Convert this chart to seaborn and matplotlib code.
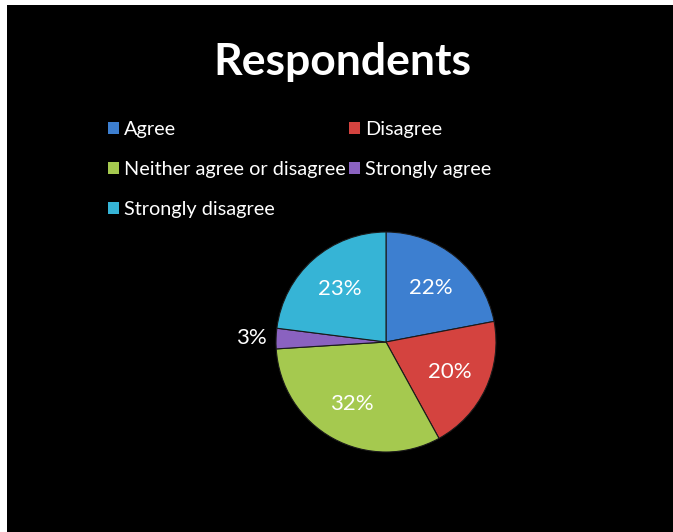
import matplotlib
matplotlib.use("Agg")
import matplotlib.pyplot as plt
import seaborn as sns
from matplotlib.patches import Patch, Rectangle

categories = ["Agree", "Disagree", "Neither agree or disagree", "Strongly agree", "Strongly disagree"]
shares = [22, 20, 32, 3, 23]
title = "Respondents"

sns.set_theme(style="white")
plt.rcParams["font.family"] = ["Lato", "DejaVu Sans"]

colors = sns.color_palette(["#3d7fd0", "#d4433f", "#a5c94f", "#8a62c0", "#36b4d6"])

W, H = 673, 532
fig = plt.figure(figsize=(W / 100, H / 100), dpi=100, facecolor="black")

# white margin strips along the top and left edges
fig.patches.append(Rectangle((0, 1 - 5 / H), 1, 5 / H, transform=fig.transFigure,
                             facecolor="white", edgecolor="none", zorder=-5))
fig.patches.append(Rectangle((0, 0), 7 / W, 1, transform=fig.transFigure,
                             facecolor="white", edgecolor="none", zorder=-5))

fig.text(342 / W, 1 - 62 / H, title, ha="center", va="center", color="white",
         fontsize=32, fontweight="bold")

# pie
cx, cy, r = 386, 342, 110
ax = fig.add_axes([(cx - r) / W, (H - cy - r) / H, 2 * r / W, 2 * r / H])
ax.set_facecolor("none")
ax.set_zorder(2)
wedges, texts, autotexts = ax.pie(
    shares, colors=colors, startangle=90, counterclock=False,
    autopct=lambda p: f"{p:.0f}%", pctdistance=0.64,
    wedgeprops=dict(edgecolor="#1a1a1a", linewidth=0.8),
    textprops=dict(color="white", fontsize=16),
)
for t, v in zip(autotexts, shares):
    if v < 5:
        x, y = t.get_position()
        t.set_position((x / 0.64 * 1.22, y / 0.64 * 1.22))
ax.set_xlim(-1, 1)
ax.set_ylim(-1, 1)
ax.set_aspect("equal")
ax.axis("off")

# legend laid out row by row in two columns
handles = [Patch(facecolor=c, edgecolor="none") for c in colors]
order = [0, 2, 4, 1, 3]
leg = fig.legend([handles[i] for i in order], [categories[i] for i in order],
                 ncol=2, loc="upper left", bbox_to_anchor=(90 / W, 1 - 103 / H),
                 frameon=False, fontsize=14.3, labelcolor="white",
                 handlelength=0.55, handleheight=0.55, handletextpad=0.25,
                 columnspacing=0.2, labelspacing=1.15)

fig.savefig("out.png", dpi=100, facecolor="black")
